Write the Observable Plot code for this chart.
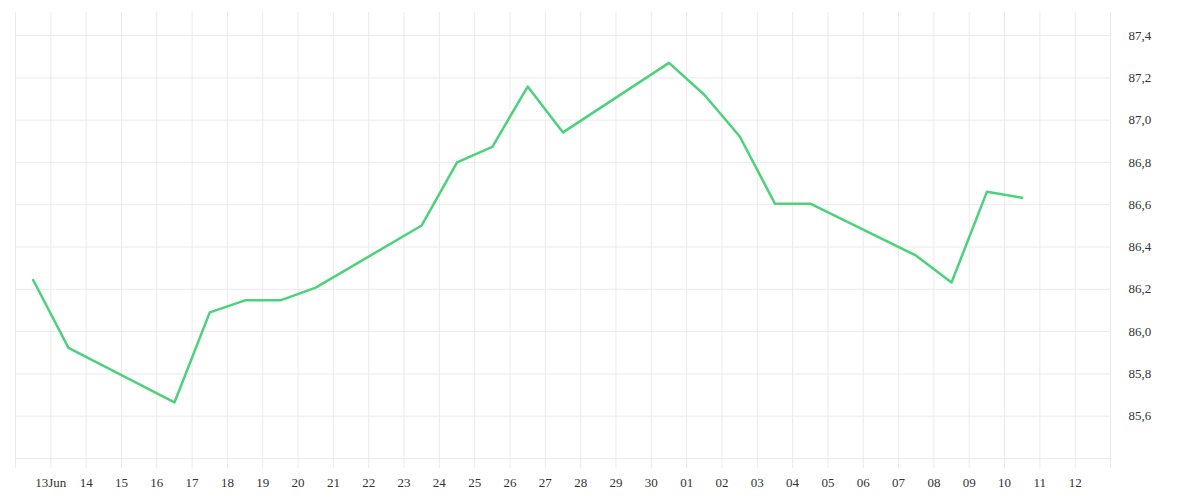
<!DOCTYPE html>
<html>
<head>
<meta charset="utf-8">
<script src="https://cdn.jsdelivr.net/npm/d3@7"></script>
<script src="https://cdn.jsdelivr.net/npm/@observablehq/plot@0.6"></script>
<style>
  html, body { margin: 0; padding: 0; background: #fff; }
  #chart { width: 1200px; height: 500px; }
</style>
</head>
<body>
<div id="chart"></div>
<script>
const dates = ["2025-06-12","2025-06-13","2025-06-16","2025-06-17","2025-06-18","2025-06-19","2025-06-20",
  "2025-06-23","2025-06-24","2025-06-25","2025-06-26","2025-06-27","2025-06-30",
  "2025-07-01","2025-07-02","2025-07-03","2025-07-04","2025-07-07","2025-07-08","2025-07-09","2025-07-10"];
const values = [86.244, 85.923, 85.665, 86.091, 86.148, 86.148, 86.208,
  86.502, 86.800, 86.874, 87.159, 86.942, 87.271,
  87.120, 86.924, 86.605, 86.605, 86.359, 86.232, 86.661, 86.633];
const yTicks = [85.4, 85.6, 85.8, 86.0, 86.2, 86.4, 86.6, 86.8, 87.0, 87.2, 87.4];
const xStart = "2025-06-12", xEnd = "2025-07-13";

const data = dates.map((d, i) => ({date: new Date(d + "T12:00:00Z"), value: values[i]}));
const xTicks = d3.utcDay.range(new Date(xStart + "T00:00:00Z"), d3.utcDay.offset(new Date(xEnd + "T00:00:00Z"), 1));
const fmtDay = (d) => {
  if (+d === +xTicks[0] || +d === +xTicks[xTicks.length - 1]) return "";
  const day = d3.utcFormat("%d")(d);
  return (d.getUTCDate() === 13 && d.getUTCMonth() === 5) ? day + "Jun" : day;
};
const fmtY = (v) => v < 85.5 ? "" : d3.format(".1f")(v).replace(".", ",");

const chart = Plot.plot({
  width: 1200,
  height: 500,
  marginLeft: 15,
  marginRight: 90,
  marginTop: 12,
  marginBottom: 42,
  style: {fontFamily: "'Liberation Serif', 'DejaVu Serif', serif", fontSize: "13px", color: "#333", background: "#fff"},
  x: {type: "utc", domain: [new Date(xStart + "T00:00:00Z"), new Date(xEnd + "T00:00:00Z")]},
  y: {domain: [85.4, 87.509]},
  marks: [
    Plot.gridX(xTicks, {stroke: "#ebebeb", strokeOpacity: 1}),
    Plot.gridY(yTicks, {stroke: "#ebebeb", strokeOpacity: 1}),
    Plot.axisX(xTicks, {tickSize: 10, tickPadding: 9, stroke: "#ebebeb", strokeOpacity: 1, tickFormat: fmtDay, fill: "#333", label: null}),
    Plot.axisY(yTicks, {anchor: "right", tickSize: 0, tickPadding: 18, textAnchor: "start", tickFormat: fmtY, fill: "#333", label: null}),
    Plot.lineY(data, {x: "date", y: "value", stroke: "#4cd27a", strokeWidth: 2.5, curve: "linear"})
  ]
});
document.getElementById("chart").appendChild(chart);
</script>
</body>
</html>
